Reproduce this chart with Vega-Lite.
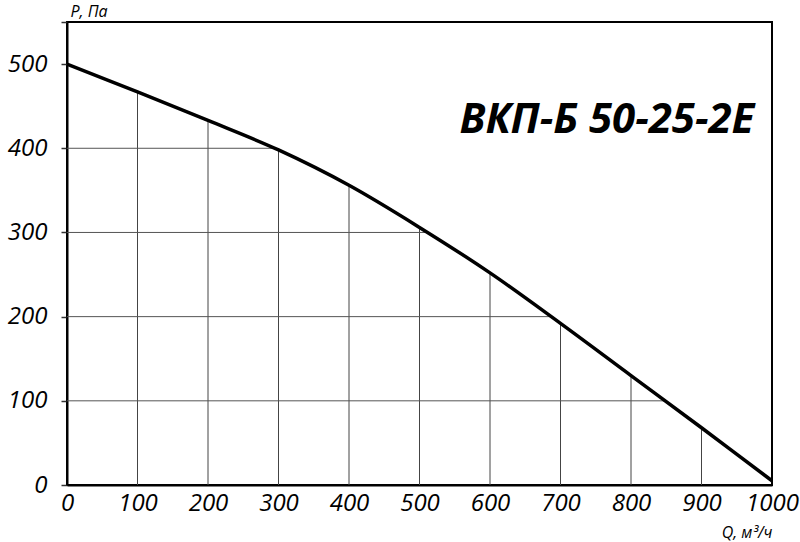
{
  "$schema": "https://vega.github.io/schema/vega-lite/v6.json",
  "width": 705,
  "height": 463,
  "autosize": {"type": "none"},
  "padding": {"left": 67, "top": 22, "right": 28, "bottom": 57},
  "background": "white",
  "config": {
    "view": {"stroke": "black", "strokeWidth": 2},
    "axis": {
      "labelFont": "Open Sans",
      "titleFont": "Open Sans",
      "labelFontStyle": "italic",
      "titleFontStyle": "italic",
      "titleFontWeight": "normal",
      "labelColor": "black",
      "titleColor": "black",
      "labelFontSize": 24,
      "titleFontSize": 16,
      "domainColor": "black",
      "domainWidth": 2,
      "grid": false
    },
    "text": {"font": "Open Sans"}
  },
  "datasets": {
    "curve": [
      {"q": 0, "p": 500},
      {"q": 100, "p": 467},
      {"q": 200, "p": 433},
      {"q": 300, "p": 398},
      {"q": 400, "p": 356},
      {"q": 500, "p": 306},
      {"q": 600, "p": 252},
      {"q": 700, "p": 192},
      {"q": 800, "p": 130},
      {"q": 900, "p": 68},
      {"q": 1000, "p": 5}
    ],
    "vgrid": [
      {"q": 100, "p": 467},
      {"q": 200, "p": 433},
      {"q": 300, "p": 398},
      {"q": 400, "p": 356},
      {"q": 500, "p": 306},
      {"q": 600, "p": 252},
      {"q": 700, "p": 192},
      {"q": 800, "p": 130},
      {"q": 900, "p": 68}
    ],
    "hgrid": [
      {"q": 850, "p": 100},
      {"q": 688, "p": 200},
      {"q": 511, "p": 300},
      {"q": 294, "p": 400}
    ],
    "label": [
      {"q": 975, "p": 418, "name": "ВКП-Б 50-25-2Е"}
    ]
  },
  "encoding": {
    "x": {
      "field": "q",
      "type": "quantitative",
      "scale": {"domain": [0, 1000], "nice": false},
      "axis": {
        "values": [0, 100, 200, 300, 400, 500, 600, 700, 800, 900, 1000],
        "format": "d",
        "ticks": false,
        "labelPadding": 6,
        "labelFlush": false,
        "title": "Q, м³/ч",
        "titleAngle": 0,
        "titleAlign": "right",
        "titleBaseline": "alphabetic",
        "titleX": 705,
        "titleY": 52
      }
    },
    "y": {
      "field": "p",
      "type": "quantitative",
      "scale": {"domain": [0, 550], "nice": false},
      "axis": {
        "values": [0, 100, 200, 300, 400, 500, 550],
        "labelExpr": "datum.value == 550 ? '' : datum.label",
        "ticks": true,
        "tickSize": 6,
        "tickColor": "#333",
        "tickWidth": 1.5,
        "labelPadding": 14,
        "labelFlush": false,
        "title": "P, Па",
        "titleAngle": 0,
        "titleAlign": "left",
        "titleBaseline": "alphabetic",
        "titleX": 3,
        "titleY": -6
      }
    }
  },
  "layer": [
    {
      "data": {"name": "vgrid"},
      "mark": {"type": "rule", "color": "#444", "strokeWidth": 1},
      "encoding": {"y2": {"datum": 0}}
    },
    {
      "data": {"name": "hgrid"},
      "mark": {"type": "rule", "color": "#555", "strokeWidth": 1},
      "encoding": {"x2": {"datum": 0}}
    },
    {
      "data": {"name": "curve"},
      "mark": {"type": "line", "color": "black", "strokeWidth": 3.5, "interpolate": "catmull-rom", "clip": true}
    },
    {
      "data": {"name": "label"},
      "mark": {
        "type": "text",
        "align": "right",
        "baseline": "alphabetic",
        "fontSize": 42,
        "fontWeight": "bold",
        "fontStyle": "italic",
        "color": "black"
      },
      "encoding": {"text": {"field": "name"}}
    }
  ]
}
